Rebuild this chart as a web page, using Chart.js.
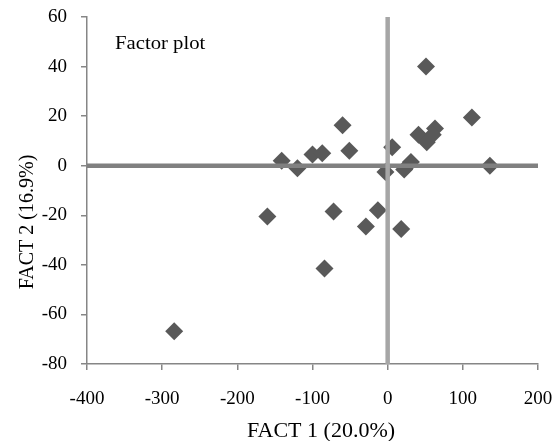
<!DOCTYPE html>
<html>
<head>
<meta charset="utf-8">
<script src="https://cdn.jsdelivr.net/npm/chart.js@4/dist/chart.umd.min.js"></script>
<style>
  html, body { margin: 0; padding: 0; background: #fff; }
  #wrap { width: 555px; height: 441px; position: relative; }
</style>
</head>
<body>
<div id="wrap"><canvas id="chart-factor"></canvas></div>
<script>
// Factor scores (FACT 1 vs FACT 2).
const fact1 = [51, 112, -60, 63, 60, 41, 52, 6, -100, -87, -51, -141, -120, 31, 22, -3, 136, -160, -72, -13, -29, 18, -84, -284];
const fact2 = [40, 19.5, 16.3, 15, 12.5, 12.5, 9.5, 7.5, 4.5, 5, 6, 2, -1, 1.5, -1.5, -2.5, 0, -20.5, -18.5, -18, -24.5, -25.5, -41.5, -66.8];

const xRange = [-400, 200];
const yRange = [-80, 60];
const xLabel = 'FACT 1 (20.0%)';
const yLabel = 'FACT 2 (16.9%)';
const plotLabel = 'Factor plot';

(function () {
  if (typeof Chart === 'undefined') return;

  const C = {
    marker: '#595959',
    zeroH:  '#808080',
    zeroV:  '#a6a6a6',
    axis:   '#868686',
    ink:    '#000000',
  };
  const serif = '"Liberation Serif", "Times New Roman", serif';

  Chart.defaults.font.family = serif;
  Chart.defaults.color = C.ink;

  const points = fact1.map((x, i) => ({ x: x, y: fact2[i] }));

  // titles are drawn by hand so they can sit where Excel put them
  const labels = {
    id: 'labels',
    afterDraw(chart) {
      const ctx = chart.ctx;
      ctx.save();
      ctx.fillStyle = C.ink;
      ctx.textBaseline = 'alphabetic';

      ctx.save();
      ctx.font = '18px ' + serif;
      ctx.textAlign = 'left';
      ctx.translate(115, 49);
      ctx.scale(1.15, 1);
      ctx.fillText(plotLabel, 0, 0);
      ctx.restore();

      ctx.save();
      ctx.font = '20px ' + serif;
      ctx.textAlign = 'center';
      ctx.translate(321, 437);
      ctx.scale(1.1, 1);
      ctx.fillText(xLabel, 0, 0);
      ctx.restore();

      ctx.font = '20px ' + serif;
      ctx.textAlign = 'center';
      ctx.translate(33, 222);
      ctx.rotate(-Math.PI / 2);
      ctx.fillText(yLabel, 0, 0);
      ctx.restore();
    },
  };

  // keep the plot box fixed, no extra room for edge labels
  function noPad(s) {
    s.paddingLeft = 0;
    s.paddingRight = 0;
    s.paddingTop = 0;
    s.paddingBottom = 0;
  }

  new Chart(document.getElementById('chart-factor'), {
    type: 'scatter',
    data: {
      datasets: [
        {
          // vertical zero line
          type: 'line',
          data: [{ x: 0, y: yRange[0] }, { x: 0, y: yRange[1] }],
          borderColor: C.zeroV,
          borderWidth: 4.5,
          pointRadius: 0,
        },
        {
          // horizontal zero line
          type: 'line',
          data: [{ x: xRange[0], y: 0 }, { x: xRange[1], y: 0 }],
          borderColor: C.zeroH,
          borderWidth: 4.5,
          pointRadius: 0,
        },
        {
          data: points,
          pointStyle: 'rectRot',
          pointRadius: 9,
          pointHoverRadius: 9,
          backgroundColor: C.marker,
          borderColor: C.marker,
          borderWidth: 0,
        },
      ],
    },
    options: {
      responsive: true,
      maintainAspectRatio: false,
      animation: false,
      layout: { padding: { top: 17, right: 17, left: 0, bottom: 0 } },
      scales: {
        x: {
          type: 'linear',
          min: xRange[0],
          max: xRange[1],
          afterFit: (s) => { s.height = 77; noPad(s); },
          grid: { drawOnChartArea: false, drawTicks: true, tickLength: 6, color: C.axis, lineWidth: 1.5 },
          border: { color: C.axis, width: 1.5 },
          ticks: { stepSize: 100, padding: 18, font: { size: 19 }, color: C.ink, maxRotation: 0 },
        },
        y: {
          type: 'linear',
          min: yRange[0],
          max: yRange[1],
          afterFit: (s) => { s.width = 87; noPad(s); },
          grid: { drawOnChartArea: false, drawTicks: true, tickLength: 6, color: C.axis, lineWidth: 1.5 },
          border: { color: C.axis, width: 1.5 },
          ticks: { stepSize: 20, padding: 14, font: { size: 19 }, color: C.ink },
        },
      },
      plugins: {
        legend: { display: false },
        tooltip: { enabled: false },
      },
    },
    plugins: [labels],
  });
})();
</script>
</body>
</html>
